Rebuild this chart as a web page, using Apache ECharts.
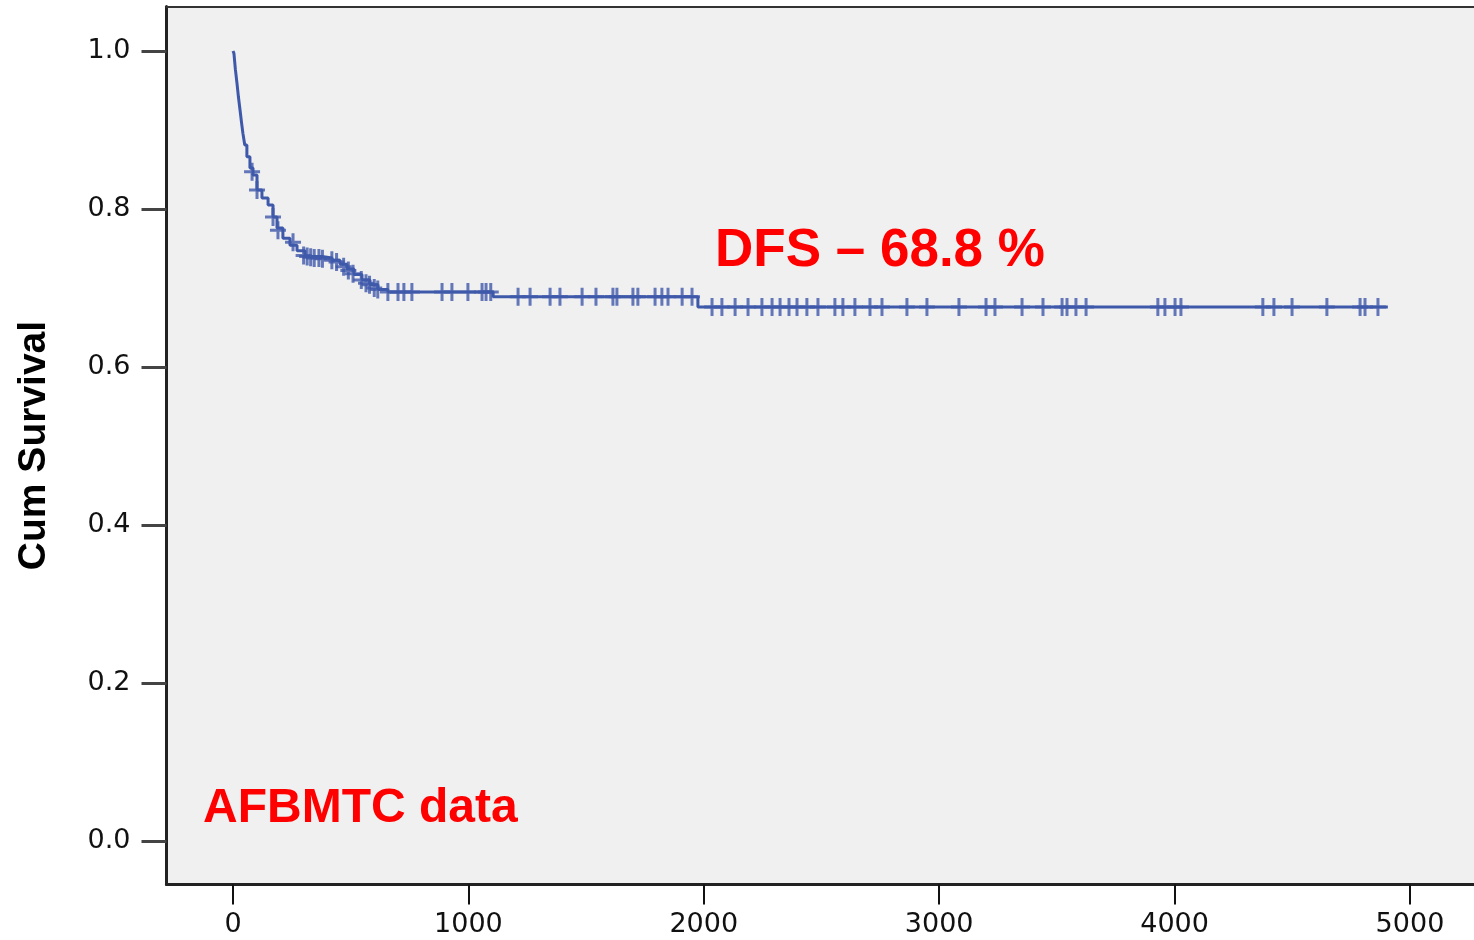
<!DOCTYPE html>
<html>
<head>
<meta charset="utf-8">
<title>DFS - AFBMTC data</title>
<script src="https://cdn.jsdelivr.net/npm/echarts@6/dist/echarts.min.js"></script>
<style>
  html, body { margin: 0; padding: 0; background: #fff; }
  #chart { width: 1474px; height: 940px; }
</style>
</head>
<body>
<div id="chart"></div>
<script>
// survival curve (days, cum survival), step changes
const curveDays = [0, 4, 10, 17, 23, 30, 36, 42, 50, 59, 72, 85, 102, 123, 149, 170, 187, 212, 242, 272, 306, 378, 421, 455, 484, 514, 548, 582, 616, 658, 1105, 1975, 4906]
const curveSurv = [1.0, 0.997, 0.977, 0.959, 0.942, 0.925, 0.910, 0.896, 0.881, 0.866, 0.852, 0.843, 0.824, 0.814, 0.805, 0.790, 0.776, 0.763, 0.754, 0.747, 0.740, 0.738, 0.735, 0.730, 0.724, 0.717, 0.710, 0.704, 0.698, 0.695, 0.689, 0.676, 0.676]

// censored cases on the early, falling part
const earlyCensorDays = [81, 102, 170, 191, 255, 300, 315, 330, 345, 365, 380, 420, 440, 470, 490, 510, 545, 565, 580, 600, 615]
const earlyCensorSurv = [0.847, 0.824, 0.790, 0.773, 0.758, 0.741, 0.740, 0.739, 0.738, 0.738, 0.737, 0.735, 0.733, 0.727, 0.722, 0.718, 0.710, 0.706, 0.704, 0.700, 0.698]

// censored cases on the three flat levels
const level1 = 0.695
const level1Days = [658, 701, 726, 760, 888, 930, 998, 1058, 1075, 1095]
const level2 = 0.689
const level2Days = [1211, 1262, 1347, 1389, 1483, 1542, 1614, 1631, 1699, 1720, 1793, 1822, 1848, 1908, 1950]
const level3 = 0.676
const level3Days = [2035, 2077, 2133, 2188, 2247, 2290, 2324, 2362, 2396, 2438, 2485, 2557, 2591, 2642, 2706, 2757, 2863, 2948,
  3084, 3199, 3237, 3352, 3441, 3522, 3543, 3581, 3624, 3929, 3959, 4002, 4027, 4375, 4422, 4499, 4647, 4788, 4809, 4864]

const yTicks = [0, 0.2, 0.4, 0.6, 0.8, 1.0]
const xTicks = [0, 1000, 2000, 3000, 4000, 5000]

const blue = '#3e58aa'
const plusMark = 'path://M6.5,0H9.5V7.5H16V10.5H9.5V18H6.5V10.5H0V7.5H6.5Z'

const curve = curveDays.map((d, i) => [d, curveSurv[i]])
const censored = [
  ...earlyCensorDays.map((d, i) => [d, earlyCensorSurv[i]]),
  ...level1Days.map(d => [d, level1]),
  ...level2Days.map(d => [d, level2]),
  ...level3Days.map(d => [d, level3])
]

const chart = echarts.init(document.getElementById('chart'))

chart.setOption({
  animation: false,
  grid: {
    left: 166.5, right: 0, top: 6.5, bottom: 55.5,
    outerBoundsMode: 'none',
    containLabel: false,
    show: true, backgroundColor: '#f0f0f0', borderWidth: 0
  },
  xAxis: [
    {
      type: 'value',
      min: -282.5,
      max: 5272,
      axisLine: { onZero: false, lineStyle: { color: '#222', width: 3 } },
      axisTick: { customValues: xTicks, length: 20, lineStyle: { color: '#111', width: 2 } },
      axisLabel: {
        customValues: xTicks,
        margin: 27,
        color: '#111',
        fontFamily: 'DejaVu Sans',
        fontSize: 27,
        formatter: v => String(Math.round(v))
      },
      splitLine: { show: false }
    },
    {
      type: 'value',
      position: 'top',
      min: -282.5,
      max: 5272,
      axisLine: { show: true, onZero: false, lineStyle: { color: '#333', width: 2 } },
      axisTick: { show: false },
      axisLabel: { show: false },
      splitLine: { show: false }
    }
  ],
  yAxis: {
    type: 'value',
    min: -0.0551,
    max: 1.0563,
    name: 'Cum Survival',
    nameLocation: 'middle',
    nameGap: 113,
    nameTextStyle: {
      color: '#000',
      fontFamily: 'Liberation Sans',
      fontWeight: 'bold',
      fontSize: 39
    },
    axisLine: { show: true, onZero: false, lineStyle: { color: '#222', width: 3 } },
    axisTick: { customValues: yTicks, length: 25, lineStyle: { color: '#444', width: 3 } },
    axisLabel: {
      customValues: yTicks,
      margin: 36,
      color: '#111',
      fontFamily: 'DejaVu Sans',
      fontSize: 27,
      formatter: v => v.toFixed(1)
    },
    splitLine: { show: false }
  },
  graphic: [
    {
      type: 'text',
      left: 715, top: 225,
      style: {
        text: 'DFS – 68.8 %',
        fill: '#ff0000',
        font: 'bold 53px "Liberation Sans", Arial, sans-serif'
      }
    },
    {
      type: 'text',
      left: 203, top: 785,
      style: {
        text: 'AFBMTC data',
        fill: '#ff0000',
        font: 'bold 48px "Liberation Sans", Arial, sans-serif'
      }
    }
  ],
  series: [
    {
      name: 'Survival',
      type: 'line',
      data: curve,
      step: 'end',
      symbol: 'none',
      lineStyle: { color: blue, width: 3 }
    },
    {
      name: 'Censored',
      type: 'scatter',
      data: censored,
      symbol: plusMark,
      symbolSize: [16, 18],
      itemStyle: { color: blue }
    }
  ]
})
</script>
</body>
</html>
